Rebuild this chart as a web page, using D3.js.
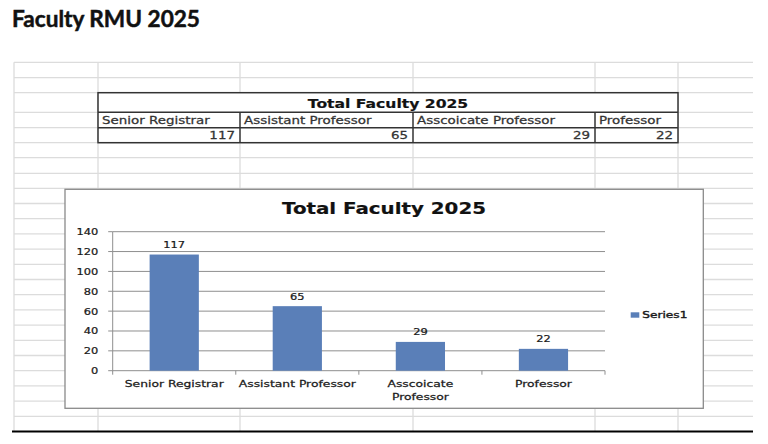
<!DOCTYPE html>
<html><head><meta charset="utf-8">
<script src="https://cdn.jsdelivr.net/npm/d3@7"></script>
<style>body{margin:0;background:#fff}svg{display:block}</style>
</head><body><svg id="c" width="768" height="444"></svg>
<script>
// ---- data ----
const pageTitle = "Faculty RMU 2025";
const chartTitle = "Total Faculty 2025";
const categories = ["Senior Registrar", "Assistant Professor", "Asscoicate Professor", "Professor"];
const categoryLabelLines = [["Senior Registrar"], ["Assistant Professor"], ["Asscoicate", "Professor"], ["Professor"]];
const values = [117, 65, 29, 22];
const seriesName = "Series1";
const yTicks = [0, 20, 40, 60, 80, 100, 120, 140];

// ---- style / layout ----
const BAR = "#5a7fb8";
const GRIDC = "#dcdcdc";
const svg = d3.select("#c");

function label(parent, x, y, text, o) {
  return parent.append("text")
    .attr("transform", `translate(${x},${y}) scale(${o.sx || 1},1)`)
    .attr("text-anchor", o.anchor || "start")
    .attr("font-family", o.family || "DejaVu Sans")
    .attr("font-size", o.size)
    .attr("font-weight", o.weight || "normal")
    .attr("fill", o.fill || "#222")
    .attr("stroke", o.fill || "#222")
    .attr("stroke-width", o.sw == null ? 0.25 : o.sw)
    .text(text);
}

// page title
svg.append("text").attr("x", 12).attr("y", 27.3)
  .attr("font-family", "Lato, 'Liberation Sans', sans-serif").attr("font-weight", "bold")
  .attr("font-size", 23).attr("textLength", 188).attr("lengthAdjust", "spacingAndGlyphs")
  .attr("fill", "#111").attr("stroke", "#111").attr("stroke-width", 0.5).text(pageTitle);

// spreadsheet grid
const rowYs = [62.3, 77.7, 92.7, 112.3, 127.7, 142.7, 157.7, 173.3];
for (let y = 188.3; y < 420; y += 15.2) rowYs.push(y);
const colXs = [14, 98, 240, 413, 595, 678];
const gridL = 14, gridR = 753, gridT = 62.3, gridB = 431;
const grid = svg.append("g");
grid.selectAll("line.h").data(rowYs).join("line")
  .attr("x1", gridL).attr("x2", gridR).attr("y1", d => d).attr("y2", d => d)
  .attr("stroke", GRIDC).attr("stroke-width", 1.3);
grid.selectAll("line.v").data(colXs).join("line")
  .attr("x1", d => d).attr("x2", d => d).attr("y1", gridT).attr("y2", gridB)
  .attr("stroke", GRIDC).attr("stroke-width", 1.3);

// data table
const tbl = svg.append("g");
const tL = 98, tR = 678, tT = 92.7, tM1 = 112.3, tM2 = 127.7, tB = 142.7;
const cellX = [98, 240, 413, 595, 678];
tbl.append("rect").attr("x", tL).attr("y", tT).attr("width", tR - tL).attr("height", tB - tT)
  .attr("fill", "#fff").attr("stroke", "#333").attr("stroke-width", 1.5);
[tM1, tM2].forEach(y => tbl.append("line").attr("x1", tL).attr("x2", tR).attr("y1", y).attr("y2", y)
  .attr("stroke", "#333").attr("stroke-width", 1.5));
cellX.slice(1, 4).forEach(x => tbl.append("line").attr("x1", x).attr("x2", x).attr("y1", tM1).attr("y2", tB)
  .attr("stroke", "#333").attr("stroke-width", 1.5));
label(tbl, (tL + tR) / 2, 108.3, chartTitle, {size: 13, weight: "bold", anchor: "middle", sx: 1.2, fill: "#111", sw: 0.2});
categories.forEach((c, i) => {
  label(tbl, cellX[i] + 4, 124, c, {size: 10.5, sx: 1.28, fill: "#333"});
  label(tbl, cellX[i + 1] - 5, 139, String(values[i]), {size: 10.5, sx: 1.28, anchor: "end", fill: "#333"});
});

// chart box
const cb = {l: 65, t: 189.3, r: 703.3, b: 408.3};
svg.append("rect").attr("x", cb.l).attr("y", cb.t).attr("width", cb.r - cb.l).attr("height", cb.b - cb.t)
  .attr("fill", "#fff").attr("stroke", "#8a8a8a").attr("stroke-width", 1.3);
// bottom black line
svg.append("line").attr("x1", 12).attr("x2", 753).attr("y1", 431.5).attr("y2", 431.5)
  .attr("stroke", "#000").attr("stroke-width", 2.2);

const chart = svg.append("g");
label(chart, 384, 214, chartTitle, {size: 16, weight: "bold", anchor: "middle", sx: 1.24, fill: "#111", sw: 0.2});

const pl = 112.7, pr = 605, pt = 231.7, pb = 370.7;
const y = d3.scaleLinear().domain([0, 140]).range([pb, pt]);
const x = d3.scaleBand().domain(categories).range([pl, pr]).paddingInner(0.6).paddingOuter(0.3);

// gridlines
chart.selectAll("line.g").data(yTicks.filter(t => t > 0)).join("line")
  .attr("x1", pl).attr("x2", pr).attr("y1", d => y(d)).attr("y2", d => y(d))
  .attr("stroke", "#8e8e8e").attr("stroke-width", 1);
// y axis
chart.append("line").attr("x1", pl).attr("x2", pl).attr("y1", pt).attr("y2", pb + 4)
  .attr("stroke", "#8e8e8e").attr("stroke-width", 1);
chart.selectAll("line.yt").data(yTicks).join("line")
  .attr("x1", pl - 4.5).attr("x2", pl).attr("y1", d => y(d)).attr("y2", d => y(d))
  .attr("stroke", "#8e8e8e").attr("stroke-width", 1);
yTicks.forEach(t => label(chart, 98.3, y(t) + 3.5, String(t), {size: 9.5, sx: 1.2, anchor: "end", fill: "#1a1a1a"}));
// x axis
chart.append("line").attr("x1", pl).attr("x2", pr).attr("y1", pb).attr("y2", pb)
  .attr("stroke", "#8e8e8e").attr("stroke-width", 1);
const step = x.step();
const bounds = categories.map((c, i) => pl + step * (i + 1));
chart.selectAll("line.xt").data(bounds).join("line")
  .attr("x1", d => d).attr("x2", d => d).attr("y1", pb).attr("y2", pb + 4)
  .attr("stroke", "#8e8e8e").attr("stroke-width", 1);

// bars
chart.selectAll("rect.bar").data(values).join("rect")
  .attr("x", (d, i) => x(categories[i])).attr("width", x.bandwidth())
  .attr("y", d => y(d)).attr("height", d => pb - y(d))
  .attr("fill", BAR);
// data labels
values.forEach((v, i) => label(chart, x(categories[i]) + x.bandwidth() / 2, y(v) - 6.5, String(v),
  {size: 9.5, sx: 1.2, anchor: "middle", fill: "#1a1a1a"}));
// category labels
categoryLabelLines.forEach((lines, i) => {
  const cx = x(categories[i]) + x.bandwidth() / 2;
  lines.forEach((ln, j) => label(chart, cx, 386.9 + j * 12.9, ln, {size: 9.5, sx: 1.3, anchor: "middle", fill: "#1a1a1a"}));
});

// legend
chart.append("rect").attr("x", 630.7).attr("y", 312.3).attr("width", 8.6).attr("height", 5.4).attr("fill", BAR);
label(chart, 642.3, 318.3, seriesName, {size: 9.5, sx: 1.28, fill: "#1a1a1a", sw: 0.4});
</script></body></html>
